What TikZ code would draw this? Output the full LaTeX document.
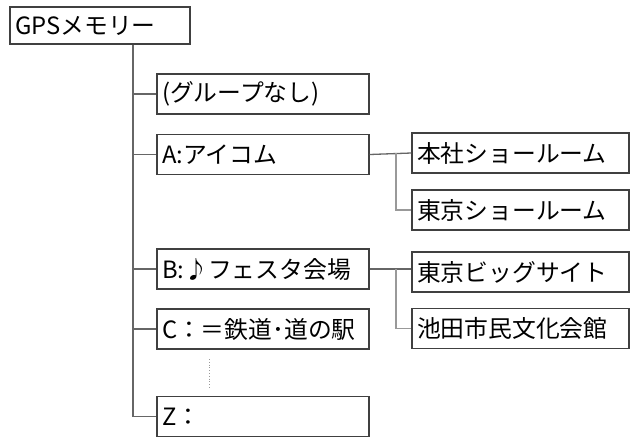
\documentclass[tikz,border=0pt]{standalone}
\usepackage{fontspec}
\setmainfont{Noto Sans CJK JP}
\begin{document}
\begin{tikzpicture}[x=1pt,y=-1pt,
  box/.style={draw=black!75,line width=1.3pt,fill=white,inner xsep=5pt,inner ysep=0pt,
    align=left,font=\fontsize{23.8}{25}\selectfont,anchor=center},
  rootbox/.style={box,text width=170pt,minimum height=37pt},
  colbox/.style={box,text width=202pt,minimum height=40pt},
  subbox/.style={box,text width=207pt,minimum height=40pt},
  conn/.style={draw=black!60,line width=1.3pt},
  subconn/.style={draw=black!40,line width=1.3pt}]
\useasboundingbox (0,0) rectangle (634,442);
\fill[white] (0,0) rectangle (634,442);
\node[rootbox] (root) at (100,25.5) {\mbox{GPSメモリー}};
\node[colbox] (g0) at (263,94) {\mbox{(グループなし)}};
\node[colbox] (ga) at (263,154.5) {\mbox{A:アイコム}};
\node[colbox] (gb) at (263,269) {\mbox{B:♪フェスタ会場}};
\node[colbox] (gc) at (263,329) {\mbox{C：＝鉄道･道の駅}};
\node[colbox] (gz) at (263,416.5) {\mbox{Z：}};
\node[subbox] (a1) at (520.5,153) {\mbox{本社ショールーム}};
\node[subbox] (a2) at (520.5,210) {\mbox{東京ショールーム}};
\node[subbox] (b1) at (520.5,272) {\mbox{東京ビッグサイト}};
\node[subbox] (b2) at (520.5,328.5) {\mbox{池田市民文化会館}};
\coordinate (trunk) at (133,0);
\coordinate (sub) at (396,0);
\draw[conn] (trunk |- root.south) -- (trunk |- gz.west);
\foreach \n in {g0,ga,gb,gc,gz} \draw[conn] (trunk |- \n.west) -- (\n.west);
\draw[conn] (ga.east) -- (a1.west);
\draw[subconn] (sub |- a1.west) -- (sub |- a2.west) -- (a2.west);
\draw[conn] (gb.east) -- (gb.east -| b1.west);
\draw[subconn] (sub |- gb.east) -- (sub |- b2.west) -- (b2.west);
\coordinate (dtop) at (209,359);
\coordinate (dbot) at (209,389);
\draw[draw=black!40,line width=0.8pt,dotted] (dtop) -- (dbot);
\end{tikzpicture}
\end{document}
